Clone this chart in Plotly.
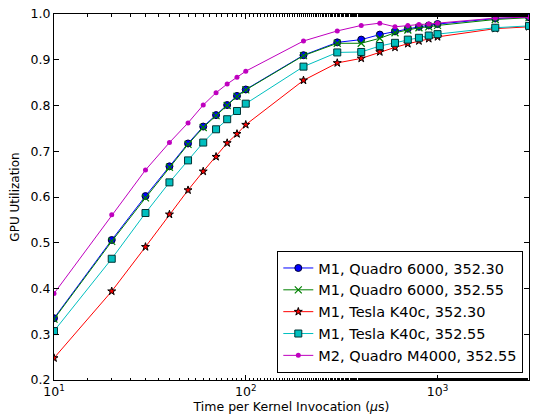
import plotly.graph_objects as go

x_us = [10, 20, 30, 40, 50, 60, 70, 80, 90, 100, 200, 300, 400, 500, 600, 700, 800, 900, 1000, 2000, 3000]

q6000_3530 = [0.335, 0.506, 0.602, 0.667, 0.717, 0.754, 0.779, 0.801, 0.821, 0.835, 0.910, 0.938, 0.944, 0.955, 0.962, 0.968, 0.972, 0.975, 0.978, 0.990, 0.993]
q6000_3555 = [0.333, 0.503, 0.598, 0.665, 0.715, 0.752, 0.778, 0.800, 0.820, 0.834, 0.909, 0.936, 0.936, 0.947, 0.959, 0.965, 0.970, 0.972, 0.975, 0.988, 0.992]
k40_3530 = [0.248, 0.394, 0.491, 0.562, 0.615, 0.656, 0.688, 0.718, 0.738, 0.758, 0.855, 0.893, 0.903, 0.917, 0.927, 0.935, 0.941, 0.946, 0.950, 0.968, 0.972]
k40_3555 = [0.307, 0.465, 0.565, 0.632, 0.680, 0.719, 0.748, 0.770, 0.788, 0.804, 0.885, 0.916, 0.917, 0.930, 0.937, 0.944, 0.948, 0.953, 0.956, 0.970, 0.974]
m4000_3555 = [0.389, 0.561, 0.659, 0.719, 0.762, 0.801, 0.828, 0.847, 0.862, 0.875, 0.941, 0.963, 0.975, 0.980, 0.972, 0.975, 0.977, 0.978, 0.980, 0.991, 0.993]

names = ["M1, Quadro 6000, 352.30", "M1, Quadro 6000, 352.55", "M1, Tesla K40c, 352.30",
         "M1, Tesla K40c, 352.55", "M2, Quadro M4000, 352.55"]

x_tickvals = [10, 100, 1000]
x_ticktext = ["10<sup>1</sup>", "10<sup>2</sup>", "10<sup>3</sup>"]

series = [
    (q6000_3530, "#0000ff", "circle", 7, "#000033", 1),
    (q6000_3555, "#008000", "x-thin", 7, "#008000", 1.2),
    (k40_3530, "#ff0000", "star", 6, "#000000", 1),
    (k40_3555, "#00bfbf", "square", 7, "#003333", 1),
    (m4000_3555, "#bf00bf", "circle", 5, "#bf00bf", 0),
]

fig = go.Figure()
for (vals, col, sym, sz, edge, ew), nm in zip(series, names):
    fig.add_trace(go.Scatter(
        x=x_us, y=vals, name=nm, mode="lines+markers",
        line=dict(color=col, width=1),
        marker=dict(symbol=sym, size=sz, color=col, line=dict(color=edge, width=ew)),
    ))

axis_common = dict(showline=True, linecolor="black", linewidth=1, mirror="ticks", ticks="inside",
                   tickcolor="black", showgrid=False, zeroline=False, ticklen=5,
                   tickfont=dict(family="DejaVu Sans", size=12.5, color="black"))

fig.update_layout(
    width=536, height=416,
    margin=dict(l=54, r=6, t=12, b=36),
    paper_bgcolor="white", plot_bgcolor="white",
    font=dict(family="DejaVu Sans", size=12, color="black"),
    xaxis=dict(type="log", range=[1, 3.477], tickvals=x_tickvals, ticktext=x_ticktext,
               title=dict(text="Time per Kernel Invocation (<i>μ</i>s)", standoff=0, font=dict(size=12.5)),
               minor=dict(ticks="inside", ticklen=2.5, tickcolor="black", showgrid=False),
               **axis_common),
    yaxis=dict(range=[0.2, 1.0], dtick=0.1, tickformat=".1f",
               title=dict(text="GPU Utilization", standoff=8, font=dict(size=12)),
               **axis_common),
    legend=dict(x=0.988, xanchor="right", y=0.019, yanchor="bottom", bgcolor="white",
                bordercolor="black", borderwidth=1, font=dict(size=14.5), tracegroupgap=0,
                itemwidth=30),
    showlegend=True,
)

fig.write_html("out.html")
